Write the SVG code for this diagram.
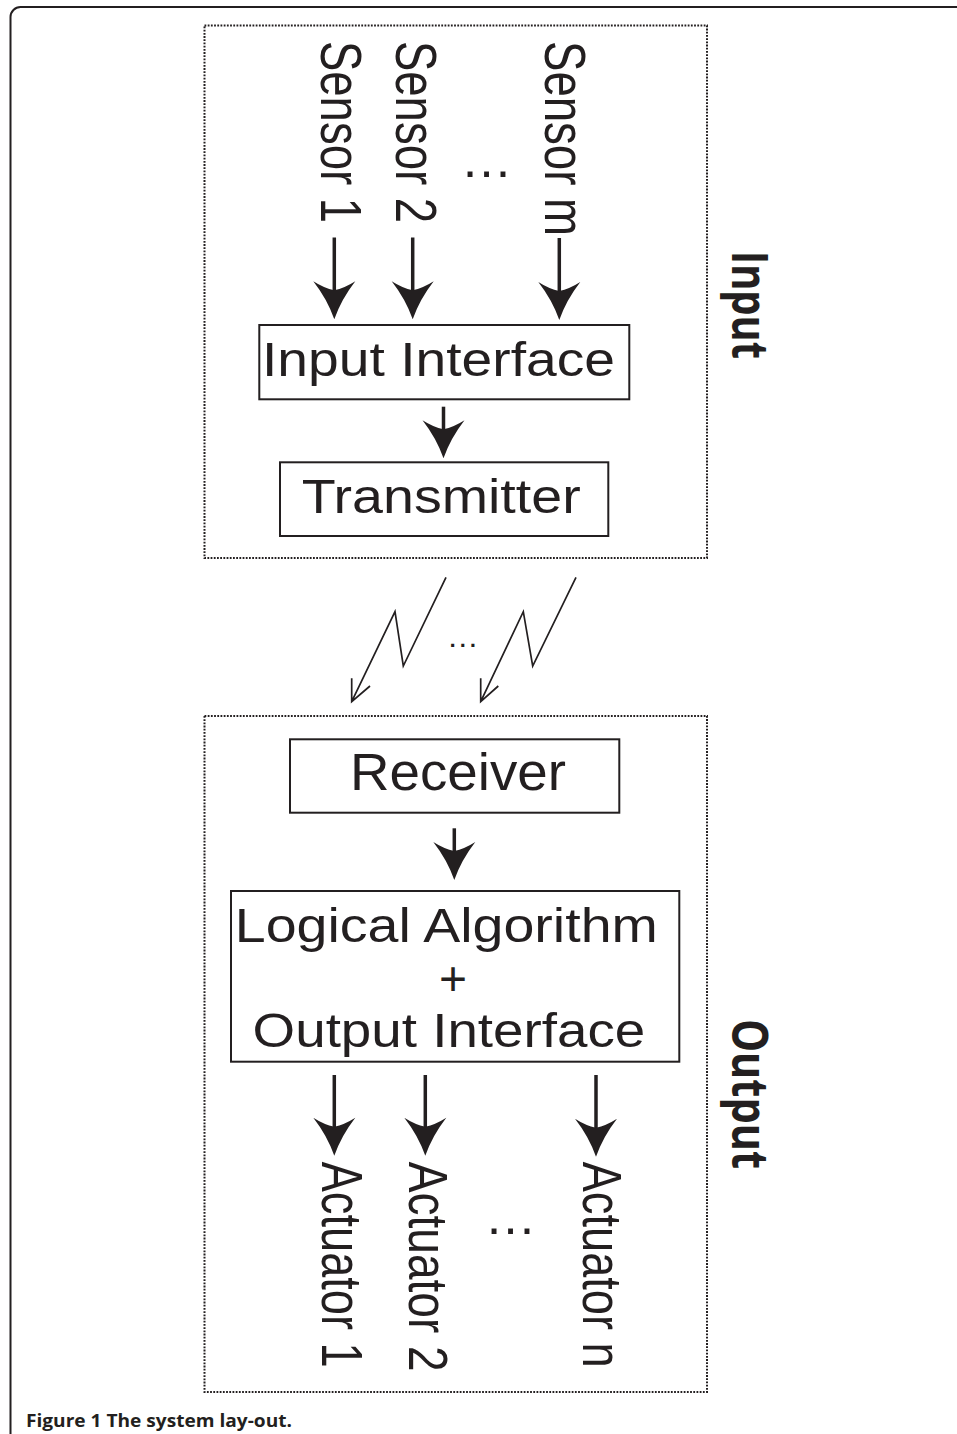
<svg xmlns="http://www.w3.org/2000/svg" xmlns:xlink="http://www.w3.org/1999/xlink" width="957" height="1434" viewBox="0 0 957 1434">
<style>
.t{font-family:"Liberation Sans",Arial,sans-serif;fill:#231f20}
.b{font-family:"Open Sans","Noto Sans",sans-serif;font-weight:bold;fill:#231f20}
.box{fill:none;stroke:#231f20;stroke-width:2}
.dot{fill:none;stroke:#231f20;stroke-width:2;stroke-dasharray:1.8 1.4}
.shaft{stroke:#231f20;stroke-width:3.5;fill:none}
.bolt{stroke:#231f20;stroke-width:1.7;fill:none;stroke-linejoin:miter}
</style>
<defs>
<path id="ah" d="M0,0 Q-7,-20 -21,-38 Q-10,-31 0,-29 Q10,-31 21,-38 Q7,-20 0,0Z" fill="#231f20"/>
</defs>
<rect width="957" height="1434" fill="#fff"/>
<path d="M10.5,1434 V17 A10,10 0 0 1 20.5,7 H957" fill="none" stroke="#231f20" stroke-width="2"/>

<g id="input-group">
<rect class="dot" x="204.5" y="25.5" width="502.5" height="532.5"/>
<text class="b" font-size="51" textLength="108" lengthAdjust="spacingAndGlyphs" transform="translate(731.7,251) rotate(90)">Input</text>
</g>
<g id="output-group">
<rect class="dot" x="204.5" y="716" width="502.5" height="676"/>
<text class="b" font-size="51" textLength="150" lengthAdjust="spacingAndGlyphs" transform="translate(731.7,1019) rotate(90)">Output</text>
</g>

<g id="sensor1"><text class="t" font-size="43" textLength="182" lengthAdjust="spacingAndGlyphs" transform="translate(321,41) rotate(90) scale(1,1.32)">Sensor 1</text></g>
<g id="sensor2"><text class="t" font-size="43" textLength="182" lengthAdjust="spacingAndGlyphs" transform="translate(396,41) rotate(90) scale(1,1.32)">Sensor 2</text></g>
<g id="sensor-dots"><text class="t" font-size="52" text-anchor="middle" x="486.5" y="176.5">…</text></g>
<g id="sensorm"><text class="t" font-size="43" textLength="195" lengthAdjust="spacingAndGlyphs" transform="translate(545,41) rotate(90) scale(1,1.32)">Sensor m</text></g>

<g id="input-interface">
<rect class="box" x="259.3" y="325" width="370" height="74.3"/>
<text class="t" font-size="49" x="262" y="376" textLength="353" lengthAdjust="spacingAndGlyphs">Input Interface</text>
</g>
<g id="transmitter">
<rect class="box" x="280" y="462.3" width="328.3" height="73.7"/>
<text class="t" font-size="48.5" x="301.7" y="512.7" textLength="279" lengthAdjust="spacingAndGlyphs">Transmitter</text>
</g>

<g id="receiver">
<rect class="box" x="290" y="739.3" width="329.3" height="73.4"/>
<text class="t" font-size="51" x="350" y="790" textLength="216" lengthAdjust="spacingAndGlyphs">Receiver</text>
</g>
<g id="logic">
<rect class="box" x="231" y="891" width="448.3" height="170.7"/>
<text class="t" font-size="48" x="234.8" y="941.7" textLength="423" lengthAdjust="spacingAndGlyphs">Logical Algorithm</text>
<text class="t" font-size="48" x="453" y="995" text-anchor="middle">+</text>
<text class="t" font-size="49" x="252.6" y="1046.7" textLength="392.7" lengthAdjust="spacingAndGlyphs">Output Interface</text>
</g>

<g id="actuator1"><text class="t" font-size="43" textLength="206" lengthAdjust="spacingAndGlyphs" transform="translate(321.7,1161.7) rotate(90) scale(1,1.32)">Actuator 1</text></g>
<g id="actuator2"><text class="t" font-size="43" textLength="210" lengthAdjust="spacingAndGlyphs" transform="translate(409.3,1161.7) rotate(90) scale(1,1.28)">Actuator 2</text></g>
<g id="actuator-dots"><text class="t" font-size="52" text-anchor="middle" x="510.5" y="1234">…</text></g>
<g id="actuatorn"><text class="t" font-size="43" textLength="206" lengthAdjust="spacingAndGlyphs" transform="translate(583.3,1161.7) rotate(90) scale(1,1.28)">Actuator n</text></g>

<g id="connectors">
<line class="shaft" x1="334.3" y1="237.5" x2="334.3" y2="295"/><use xlink:href="#ah" x="334.3" y="319.3"/>
<line class="shaft" x1="412.7" y1="237.5" x2="412.7" y2="295"/><use xlink:href="#ah" x="412.7" y="319.3"/>
<line class="shaft" x1="559.3" y1="238" x2="559.3" y2="296"/><use xlink:href="#ah" x="559.3" y="320"/>
<line class="shaft" x1="443.5" y1="406.7" x2="443.5" y2="432"/><use xlink:href="#ah" x="443.5" y="458.3"/>
<path class="bolt" d="M446,577.3 L403.3,666 L395,611.7 L351.7,701.7 M351.7,678.3 L351.7,701.7 L370,686"/>
<path class="bolt" d="M576,577.3 L532.7,666 L523.3,611.7 L480.7,701.7 M480.7,678.3 L480.7,701.7 L498.3,686"/>
<text class="t" font-size="32" text-anchor="middle" x="462.7" y="646.5">…</text>
<line class="shaft" x1="454.3" y1="828.3" x2="454.3" y2="855"/><use xlink:href="#ah" x="454.3" y="880"/>
<line class="shaft" x1="334.3" y1="1075" x2="334.3" y2="1130"/><use xlink:href="#ah" x="334.3" y="1155.7"/>
<line class="shaft" x1="425.3" y1="1075" x2="425.3" y2="1130"/><use xlink:href="#ah" x="425.3" y="1155.7"/>
<line class="shaft" x1="596" y1="1075" x2="596" y2="1131"/><use xlink:href="#ah" x="596" y="1156.7"/>
</g>

<text class="b" font-size="18" x="26" y="1426.7" textLength="266" lengthAdjust="spacingAndGlyphs">Figure 1 The system lay-out.</text>
</svg>
